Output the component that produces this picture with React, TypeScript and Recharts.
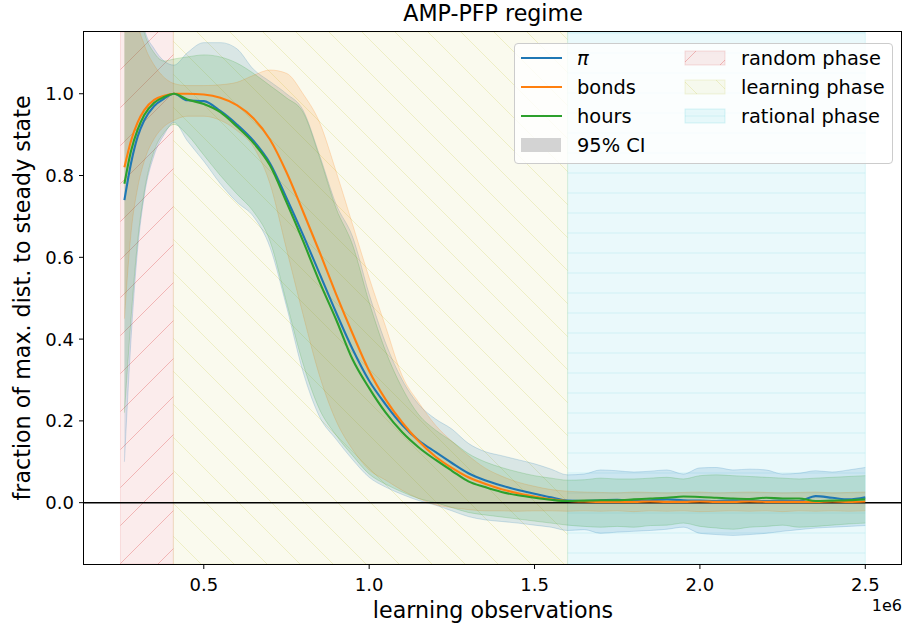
import React from "react";
import {
  ComposedChart,
  Line,
  Area,
  XAxis,
  YAxis,
  ReferenceArea,
  ReferenceLine,
} from "recharts";

// learning observations, in units of 1e6
const obsM = [
  0.26, 0.28, 0.3, 0.32, 0.35, 0.38, 0.41, 0.45, 0.5, 0.55, 0.6, 0.65, 0.7, 0.75, 0.8, 0.85,
  0.9, 0.95, 1.0, 1.05, 1.1, 1.15, 1.2, 1.25, 1.3, 1.35, 1.4, 1.45, 1.5, 1.55, 1.6, 1.65, 1.7,
  1.75, 1.8, 1.85, 1.9, 1.95, 2.0, 2.05, 2.1, 2.15, 2.2, 2.25, 2.3, 2.35, 2.4, 2.45, 2.5,
];

const piMean = [
  0.74, 0.83, 0.895, 0.935, 0.97, 0.988, 1.0, 0.984, 0.982, 0.958, 0.925, 0.885, 0.83, 0.745,
  0.655, 0.56, 0.465, 0.375, 0.298, 0.24, 0.19, 0.152, 0.124, 0.097, 0.072, 0.055, 0.042, 0.031,
  0.022, 0.013, 0.005, 0.004, 0.006, 0.007, 0.005, 0.006, 0.008, 0.006, 0.005, 0.004, 0.006,
  0.005, 0.004, 0.005, 0.004, 0.016, 0.012, 0.008, 0.013,
];
const piLo = [
  0.1, 0.4, 0.62, 0.75, 0.85, 0.9, 0.93, 0.885, 0.835, 0.78, 0.735, 0.7, 0.625, 0.48, 0.32, 0.21,
  0.155, 0.105, 0.062, 0.038, 0.02, 0.005, -0.006, -0.02, -0.034, -0.042, -0.046, -0.05, -0.055,
  -0.06, -0.068, -0.066, -0.075, -0.072, -0.07, -0.068, -0.065, -0.06, -0.075, -0.078, -0.08,
  -0.078, -0.075, -0.07, -0.066, -0.062, -0.06, -0.058, -0.056,
];
const piHi = [
  1.45, 1.36, 1.26, 1.16, 1.11, 1.08, 1.07, 1.1, 1.125, 1.125, 1.11, 1.06, 1.03, 1.0, 0.96, 0.85,
  0.73, 0.65, 0.51, 0.39, 0.3, 0.24, 0.205, 0.18, 0.145, 0.125, 0.115, 0.105, 0.095, 0.082, 0.068,
  0.07, 0.08, 0.078, 0.075, 0.077, 0.08, 0.07, 0.085, 0.086, 0.08, 0.082, 0.08, 0.07, 0.072,
  0.078, 0.075, 0.08, 0.086,
];

const bondsMean = [
  0.82, 0.885, 0.93, 0.96, 0.985, 0.995, 1.0, 1.0, 0.998, 0.99, 0.972, 0.94, 0.888, 0.808, 0.712,
  0.613, 0.51, 0.413, 0.322, 0.252, 0.196, 0.15, 0.113, 0.085, 0.062, 0.046, 0.033, 0.023, 0.015,
  0.008, 0.004, 0.003, 0.002, 0.002, 0.002, 0.003, 0.002, 0.002, 0.003, 0.002, 0.002, 0.003,
  0.002, 0.002, 0.002, 0.002, 0.003, 0.002, 0.003,
];
const bondsLo = [
  0.45, 0.66, 0.77, 0.835, 0.89, 0.92, 0.935, 0.945, 0.945, 0.935, 0.91, 0.87, 0.78, 0.62, 0.46,
  0.31, 0.2, 0.13, 0.08, 0.055, 0.03, 0.01, -0.005, -0.012, -0.017, -0.02, -0.02, -0.021, -0.02,
  -0.02, -0.021, -0.02, -0.021, -0.02, -0.022, -0.02, -0.021, -0.02, -0.022, -0.021, -0.02,
  -0.021, -0.02, -0.022, -0.02, -0.021, -0.02, -0.021, -0.02,
];
const bondsHi = [
  1.6, 1.35, 1.18, 1.12, 1.07, 1.04, 1.025, 1.02, 1.02, 1.022, 1.028, 1.045, 1.058, 1.05, 1.0,
  0.93, 0.81, 0.68, 0.55, 0.43, 0.31, 0.245, 0.19, 0.15, 0.115, 0.085, 0.065, 0.05, 0.04, 0.032,
  0.028, 0.026, 0.025, 0.024, 0.026, 0.025, 0.024, 0.025, 0.026, 0.024, 0.025, 0.026, 0.025,
  0.024, 0.025, 0.026, 0.024, 0.025, 0.026,
];

const hoursMean = [
  0.78, 0.86, 0.912, 0.948, 0.978, 0.992, 1.0, 0.986, 0.975, 0.955, 0.92, 0.88, 0.825, 0.735,
  0.64, 0.54, 0.448, 0.35, 0.28, 0.22, 0.172, 0.135, 0.105, 0.078, 0.052, 0.038, 0.026, 0.018,
  0.012, 0.007, 0.004, 0.005, 0.006, 0.006, 0.008, 0.01, 0.012, 0.015, 0.014, 0.012, 0.01, 0.009,
  0.012, 0.01, 0.01, 0.004, 0.005, 0.006, 0.008,
];
const hoursLo = [
  0.22, 0.45, 0.64, 0.76, 0.86, 0.905, 0.925, 0.9, 0.85, 0.8, 0.755, 0.712, 0.64, 0.49, 0.34,
  0.228, 0.165, 0.115, 0.07, 0.045, 0.026, 0.01, 0.0, -0.012, -0.024, -0.03, -0.035, -0.04,
  -0.045, -0.05, -0.055, -0.058, -0.06, -0.058, -0.06, -0.056, -0.055, -0.05, -0.058, -0.062,
  -0.065, -0.06, -0.058, -0.055, -0.06, -0.058, -0.055, -0.052, -0.05,
];
const hoursHi = [
  1.42, 1.33, 1.22, 1.15, 1.1, 1.08, 1.085, 1.09, 1.095, 1.09, 1.075, 1.05, 1.02, 0.99, 0.955,
  0.845, 0.72, 0.63, 0.49, 0.37, 0.28, 0.215, 0.178, 0.15, 0.12, 0.1, 0.086, 0.075, 0.066, 0.06,
  0.055, 0.056, 0.06, 0.058, 0.058, 0.06, 0.062, 0.058, 0.066, 0.068, 0.066, 0.064, 0.062, 0.06,
  0.058, 0.06, 0.062, 0.064, 0.066,
];

const phaseNames = ["random phase", "learning phase", "rational phase"];
const phaseStart = [0.248, 0.408, 1.6];
const phaseEnd = [0.408, 1.6, 2.5];

const xTicks = [0.5, 1.0, 1.5, 2.0, 2.5];
const yTicks = [0, 0.2, 0.4, 0.6, 0.8, 1.0];

const C_PI = "#1f77b4";
const C_BONDS = "#ff7f0e";
const C_HOURS = "#2ca02c";
const phaseColors = ["#d62728", "#bcbd22", "#17becf"];
const phasePatterns = ["hatchRandom", "hatchLearning", "hatchRational"];

const FONT = "'DejaVu Sans', sans-serif";

const rows = obsM.map((x, i) => ({
  x,
  pi: piMean[i],
  bonds: bondsMean[i],
  hours: hoursMean[i],
  piBand: [piLo[i], piHi[i]],
  bondsBand: [bondsLo[i], bondsHi[i]],
  hoursBand: [hoursLo[i], hoursHi[i]],
}));

const XTick = ({ x, y, payload }: any) => (
  <text x={x} y={y} dy={18} textAnchor="middle" fontSize={18} fontFamily={FONT} fill="#000">
    {Number(payload.value).toFixed(1)}
  </text>
);

const YTick = ({ x, y, payload }: any) => (
  <text x={x} y={y} dy={6.5} textAnchor="end" fontSize={18} fontFamily={FONT} fill="#000">
    {Number(payload.value).toFixed(1)}
  </text>
);

const HatchDefs = ({ prefix }: { prefix: string }) => (
  <defs>
    <pattern id={prefix + "hatchRandom"} patternUnits="userSpaceOnUse" width={38} height={38}>
      <rect width={38} height={38} fill="#d62728" fillOpacity={0.09} />
      <path d="M0,38 L38,0 M-2,2 L2,-2 M36,40 L40,36" stroke="#d62728" strokeOpacity={0.28} strokeWidth={1} />
    </pattern>
    <pattern id={prefix + "hatchLearning"} patternUnits="userSpaceOnUse" width={33} height={33}>
      <rect width={33} height={33} fill="#bcbd22" fillOpacity={0.08} />
      <path d="M0,0 L33,33 M-2,31 L2,35 M31,-2 L35,2" stroke="#bcbd22" strokeOpacity={0.2} strokeWidth={1} />
    </pattern>
    <pattern id={prefix + "hatchRational"} patternUnits="userSpaceOnUse" width={20} height={20}>
      <rect width={20} height={20} fill="#17becf" fillOpacity={0.09} />
      <path d="M0,13 L20,13" stroke="#17becf" strokeOpacity={0.12} strokeWidth={1} />
    </pattern>
  </defs>
);

const LegendBox = () => {
  const rowY = [15, 44, 73, 102];
  const lineItems = [
    { label: "π", color: C_PI, italic: true },
    { label: "bonds", color: C_BONDS },
    { label: "hours", color: C_HOURS },
  ];
  return (
    <div
      style={{
        position: "absolute",
        left: 514,
        top: 43,
        width: 379,
        height: 121,
        boxSizing: "border-box",
        background: "rgba(255,255,255,0.8)",
        border: "1px solid #cccccc",
        borderRadius: 4,
      }}
    >
      <svg width={379} height={121} style={{ position: "absolute", left: -1, top: -1 }}>
        <HatchDefs prefix="lg-" />
        {lineItems.map((it, i) => (
          <g key={it.label}>
            <line x1={7} x2={48} y1={rowY[i]} y2={rowY[i]} stroke={it.color} strokeWidth={2} />
            <text
              x={63}
              y={rowY[i]}
              dy="0.36em"
              fontSize={19.4}
              fontFamily={FONT}
              fontStyle={it.italic ? "italic" : "normal"}
            >
              {it.label}
            </text>
          </g>
        ))}
        <rect x={7} y={rowY[3] - 7} width={40} height={14} fill="#d3d3d3" />
        <text x={63} y={rowY[3]} dy="0.36em" fontSize={19.4} fontFamily={FONT}>
          95% CI
        </text>
        {phaseNames.map((name, i) => (
          <g key={name}>
            <rect
              x={171}
              y={rowY[i] - 7}
              width={40}
              height={14}
              fill={`url(#lg-${phasePatterns[i]})`}
              stroke={phaseColors[i]}
              strokeOpacity={0.15}
            />
            <text x={227} y={rowY[i]} dy="0.36em" fontSize={19.4} fontFamily={FONT}>
              {name}
            </text>
          </g>
        ))}
      </svg>
    </div>
  );
};

export default function App() {
  return (
    <div style={{ position: "relative", width: 904, height: 624, background: "#fff", fontFamily: FONT }}>
      <style>{"body{margin:0}"}</style>
      <ComposedChart
        width={904}
        height={624}
        data={rows}
        margin={{ top: 32, right: 2, bottom: 0, left: 0 }}
      >
        <HatchDefs prefix="" />
        <XAxis
          type="number"
          dataKey="x"
          domain={[0.1378, 2.611]}
          ticks={xTicks}
          allowDataOverflow
          axisLine={false}
          tickLine={{ stroke: "#000" }}
          tickSize={5}
          tickMargin={4}
          height={60}
          tick={<XTick />}
        />
        <YAxis
          type="number"
          domain={[-0.15, 1.151]}
          ticks={yTicks}
          allowDataOverflow
          axisLine={false}
          tickLine={{ stroke: "#000" }}
          tickSize={5}
          tickMargin={5}
          width={84}
          tick={<YTick />}
        />
        {phaseNames.map((name, i) => (
          <ReferenceArea
            key={name}
            x1={phaseStart[i]}
            x2={phaseEnd[i]}
            fill={`url(#${phasePatterns[i]})`}
            fillOpacity={1}
            stroke={phaseColors[i]}
            strokeOpacity={0.12}
            ifOverflow="hidden"
          />
        ))}
        <Area
          type="monotone"
          dataKey="piBand"
          stroke={C_PI}
          strokeOpacity={0.2}
          fill={C_PI}
          fillOpacity={0.15}
          dot={false}
          activeDot={false}
          isAnimationActive={false}
        />
        <Area
          type="monotone"
          dataKey="bondsBand"
          stroke={C_BONDS}
          strokeOpacity={0.2}
          fill={C_BONDS}
          fillOpacity={0.15}
          dot={false}
          activeDot={false}
          isAnimationActive={false}
        />
        <Area
          type="monotone"
          dataKey="hoursBand"
          stroke={C_HOURS}
          strokeOpacity={0.2}
          fill={C_HOURS}
          fillOpacity={0.15}
          dot={false}
          activeDot={false}
          isAnimationActive={false}
        />
        <ReferenceLine y={0} stroke="#000" strokeWidth={1.5} />
        <Line type="monotone" dataKey="pi" stroke={C_PI} strokeWidth={2.1} dot={false} isAnimationActive={false} />
        <Line type="monotone" dataKey="bonds" stroke={C_BONDS} strokeWidth={2.1} dot={false} isAnimationActive={false} />
        <Line type="monotone" dataKey="hours" stroke={C_HOURS} strokeWidth={2.1} dot={false} isAnimationActive={false} />
      </ComposedChart>

      <div
        style={{
          position: "absolute",
          left: 83,
          top: 31,
          width: 819,
          height: 534,
          boxSizing: "border-box",
          border: "1px solid #000",
          pointerEvents: "none",
        }}
      />
      <LegendBox />
      <div
        style={{
          position: "absolute",
          left: 84,
          width: 818,
          top: 0,
          textAlign: "center",
          fontSize: 22.2,
          lineHeight: "26px",
        }}
      >
        AMP-PFP regime
      </div>
      <div
        style={{
          position: "absolute",
          left: 84,
          width: 818,
          top: 597,
          textAlign: "center",
          fontSize: 22.2,
          lineHeight: "26px",
        }}
      >
        learning observations
      </div>
      <div
        style={{
          position: "absolute",
          left: 22,
          top: 298,
          transform: "translate(-50%, -50%) rotate(-90deg)",
          whiteSpace: "nowrap",
          fontSize: 22.2,
          lineHeight: "26px",
        }}
      >
        fraction of max. dist. to steady state
      </div>
      <div
        style={{
          position: "absolute",
          right: 2,
          top: 596,
          fontSize: 16,
          lineHeight: "20px",
        }}
      >
        1e6
      </div>
    </div>
  );
}
